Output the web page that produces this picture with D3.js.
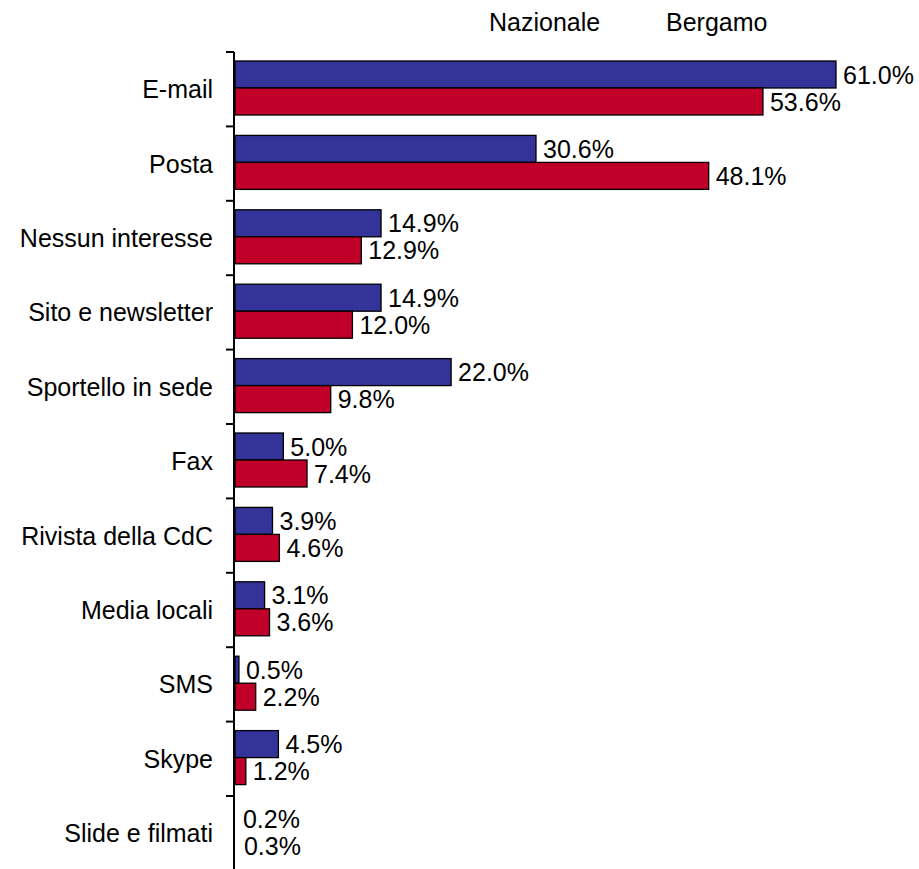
<!DOCTYPE html>
<html><head><meta charset="utf-8">
<script src="https://cdn.jsdelivr.net/npm/d3@7/dist/d3.min.js"></script>
<style>body{margin:0;background:#fff}svg{display:block}text{font-family:"Liberation Sans",Arial,sans-serif}</style>
</head><body><div id="chart"></div>
<script>
const categories = ["E-mail","Posta","Nessun interesse","Sito e newsletter","Sportello in sede","Fax","Rivista della CdC","Media locali","SMS","Skype","Slide e filmati"];
const seriesNames = ["Nazionale","Bergamo"];
const nazionale = [61.0,30.6,14.9,14.9,22.0,5.0,3.9,3.1,0.5,4.5,0.2];
const bergamo = [53.6,48.1,12.9,12.0,9.8,7.4,4.6,3.6,2.2,1.2,0.3];
const colors = ["#333399","#C00028"];

const W = 919, H = 869;
const svg = d3.select("#chart").append("svg").attr("width",W).attr("height",H);
const x0 = 234;
const x = d3.scaleLinear().domain([0,61]).range([x0, 836]);
const y = d3.scaleBand().domain(categories).range([52, 52 + 74.4*11]).padding(0);
const ys = d3.scaleBand().domain(seriesNames).range([9, 63]).padding(0);
const fs = 25;

const data = categories.map((c,i)=>({c, vals:[nazionale[i], bergamo[i]]}));

const g = svg.selectAll("g.cat").data(data).enter().append("g").attr("class","cat")
  .attr("transform", d=>`translate(0,${y(d.c)})`);

g.selectAll("rect").data(d=>d.vals.map((v,k)=>({v,k})).filter(d=>x(d.v)-x(0) > 3)).enter().append("rect")
  .attr("x", x(0)+1).attr("y", d=>ys(seriesNames[d.k]))
  .attr("width", d=>Math.max(0, x(d.v)-x(0)-1)).attr("height", ys.bandwidth())
  .attr("fill", d=>colors[d.k]).attr("stroke","#000").attr("stroke-width",1.3);

g.selectAll("text.val").data(d=>d.vals.map((v,k)=>({v,k}))).enter().append("text").attr("class","val")
  .attr("x", d=>x(d.v)+7).attr("y", d=>ys(seriesNames[d.k]) + ys.bandwidth()/2)
  .attr("dy","0.36em").attr("font-size",fs).attr("fill","#000")
  .text(d=>d.v.toFixed(1)+"%");

g.append("text").attr("x", 213).attr("y", y.bandwidth()/2).attr("dy","0.36em")
  .attr("text-anchor","end").attr("font-size",fs).text(d=>d.c);

// axis
const ax = svg.append("g");
ax.append("line").attr("x1",x0).attr("x2",x0).attr("y1",y(categories[0])).attr("y2",H)
  .attr("stroke","#000").attr("stroke-width",2);
const tickYs = categories.map(c=>y(c)).concat([y(categories[categories.length-1])+y.bandwidth()]);
ax.selectAll("line.tick").data(tickYs).enter().append("line").attr("class","tick")
  .attr("x1",x0-8).attr("x2",x0).attr("y1",d=>d).attr("y2",d=>d)
  .attr("stroke","#000").attr("stroke-width",2);

// legend (text only)
const legX = [489, 666];
svg.selectAll("text.leg").data(seriesNames).enter().append("text").attr("class","leg")
  .attr("x",(d,i)=>legX[i]).attr("y",31).attr("font-size",fs).text(d=>d);
</script></body></html>
